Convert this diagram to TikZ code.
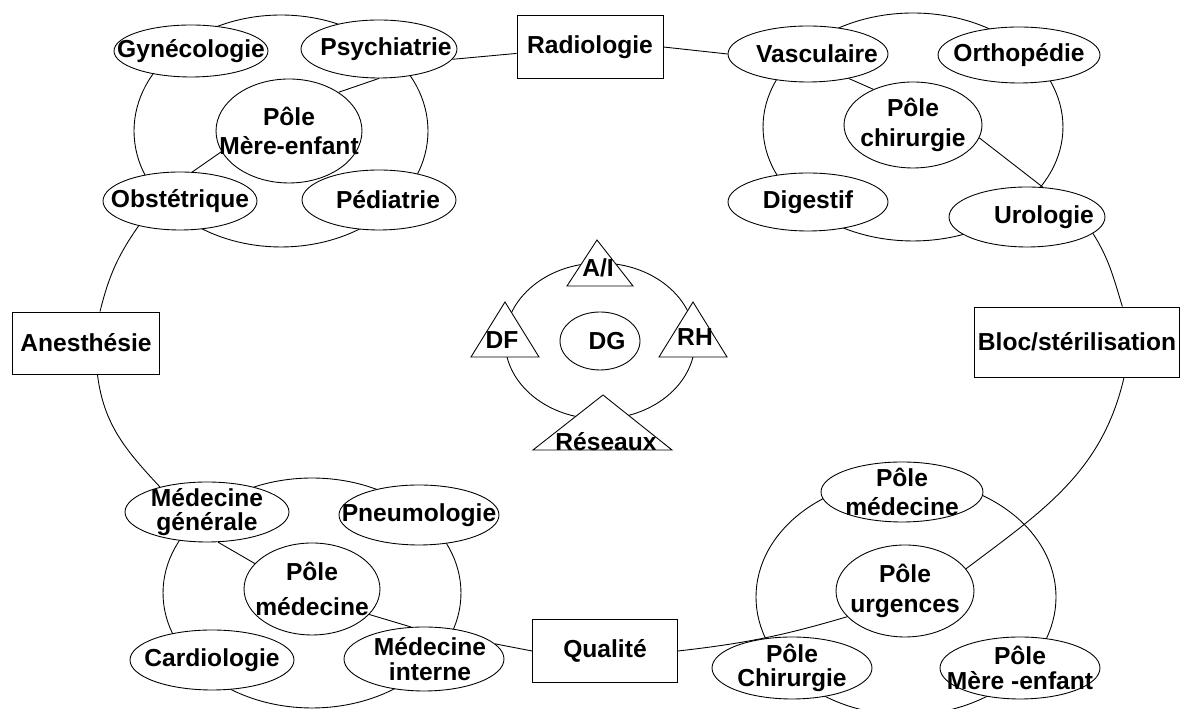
\documentclass[tikz,border=0pt]{standalone}
\usepackage{fontspec}
\setmainfont{Liberation Sans}
\usetikzlibrary{shapes.geometric, positioning}

\begin{document}
\begin{tikzpicture}[
    x=0.02cm, y=0.02cm,
    line width=0.5pt,
    every node/.style={
      font=\bfseries\fontsize{14}{17}\selectfont
    },
    every label/.style={
      align=center,
      inner sep=0pt
    },
    twoline/.style={
      font=\bfseries\fontsize{14}{14}\selectfont
    },
    ring/.style={
      ellipse,
      draw,
      inner sep=0pt
    },
    service/.style={
      ellipse,
      draw,
      fill=white,
      inner sep=0pt,
      minimum width=3.2cm,
      minimum height=1.16cm
    },
    pole/.style={
      ellipse,
      draw,
      fill=white,
      inner sep=0pt,
      minimum width=2.76cm,
      minimum height=1.84cm
    },
    dept/.style={
      rectangle,
      draw,
      fill=white,
      minimum width=2.92cm,
      minimum height=1.26cm
    },
    tri/.style={
      draw,
      fill=white
    },
    link/.style={
      draw
    }
]
\useasboundingbox (0,0) rectangle (1181,709);

% Pole mere-enfant
\node (mereRing) [ring, minimum width=5.88cm, minimum height=4.64cm] at (281,578) {};
\node (gyn) [service, minimum width=3.08cm, minimum height=1.04cm, label={center:Gynécologie}] at (191,658) {};
\node (psy) [service, minimum width=3.12cm, label={[xshift=0.14cm]center:Psychiatrie}] at (379,660) {};
\node (pme) [pole, minimum width=2.92cm, minimum height=2.08cm, label={center:Pôle\\Mère-enfant}] at (289,578) {};
\node (obst) [service, minimum width=3.08cm, label={center:Obstétrique}] at (180,508) {};
\node (ped) [service, minimum width=3.08cm, minimum height=1.2cm, label={[xshift=0.18cm]center:Pédiatrie}] at (379,509) {};
\draw [link] (pme.38) -- (psy.south);
\draw [link] (pme.197) -- (obst.67);

% Pole chirurgie
\node (chirRing) [ring, minimum width=6cm, minimum height=4.56cm] at (913,582) {};
\node (vasc) [service, minimum height=1.12cm, label={[xshift=0.18cm]center:Vasculaire}] at (808,655) {};
\node (ortho) [service, minimum width=3.24cm, minimum height=1.12cm, label={center:Orthopédie}] at (1019,654) {};
\node (pch) [pole, minimum height=1.72cm, label={center:Pôle\\chirurgie}] at (913,584) {};
\node (dig) [service, label={center:Digestif}] at (808,507) {};
\node (uro) [service, minimum width=3.12cm, minimum height=1.2cm, label={[xshift=0.34cm]center:Urologie}] at (1027,492) {};
\draw [link] (vasc.-31) -- (pch.138);
\draw [link] (pch.-11) -- (uro.62);

% Pole medecine
\node (medRing) [ring, minimum width=5.96cm, minimum height=4.6cm] at (312,116) {};
\node (mg) [service, minimum width=3.28cm, minimum height=1.2cm, label={[twoline]center:Médecine\\générale}] at (207,197) {};
\node (pneu) [service, minimum height=1.2cm, label={center:Pneumologie}] at (419,194) {};
\node (pm) [pole, minimum width=2.72cm, label={[font=\bfseries\fontsize{14}{20}\selectfont]center:Pôle\\médecine}] at (312,120) {};
\node (cardio) [service, minimum width=3.28cm, minimum height=1.2cm, label={center:Cardiologie}] at (212,49) {};
\node (mi) [service, minimum height=1.28cm, label={[twoline, xshift=0.12cm]center:Médecine\\interne}] at (424,50) {};
\draw [link] (mg.-70) -- (pm.156);
\draw [link] (pm.-24) -- (mi.112);

% Pole urgences
\node (urgRing) [ring, minimum width=6cm, minimum height=4.72cm] at (906,112) {};
\node (pmed2) [service, minimum width=3.24cm, minimum height=1.2cm, label={center:Pôle\\médecine}] at (902,217) {};
\node (urg) [pole, label={center:Pôle\\urgences}] at (905,118) {};
\node (pchir2) [service, minimum height=1.24cm, label={[twoline]center:Pôle\\Chirurgie}] at (792,41) {};
\node (pme2) [service, minimum height=1.24cm, label={[twoline]center:Pôle\\Mère -enfant}] at (1020,41) {};

% Direction
\node (dirRing) [ring, minimum width=3.8cm, minimum height=3.12cm] at (600,368) {};
\node (dg) [ellipse, draw, fill=white, inner sep=0pt, minimum width=1.6cm, minimum height=1.16cm, label={[xshift=0.14cm]center:DG}] at (600,368) {};
\draw [tri] (567,423) -- (597,469) -- (633,423) -- cycle;
\node (ai) at (598,441) {A/I};
\draw [tri] (471,352) -- (505,407) -- (539,352) -- cycle;
\node (df) at (502,369) {DF};
\draw [tri] (659,352) -- (693,407) -- (727,352) -- cycle;
\node (rh) at (695,372) {RH};
\draw [tri] (533,259) -- (603,314) -- (672,259) -- cycle;
\node (res) at (606,267) {Réseaux};

% Services transversaux
\node (radio) [dept] at (590,662) {Radiologie};
\node (anest) [dept, minimum width=2.94cm, minimum height=1.24cm] at (86,366) {Anesthésie};
\node (bloc) [dept, inner xsep=2pt, minimum width=4.1cm, minimum height=1.4cm] at (1077,367) {Bloc/stérilisation};
\node (qual) [dept, minimum width=2.9cm] at (605,58) {Qualité};

% Anneau
\draw [link] (psy.-8) -- (radio.185);
\draw [link] (radio.east) -- (vasc.west);
\draw [link] (uro.-14) to[out=-58, in=107] (bloc.38);
\draw [link] (bloc.-37) to[out=-103, in=37] (urg.20);
\draw [link] (qual.east) to[bend right=5] (urg.204);
\draw [link] (mi.12) -- (qual.west);
\draw [link] (anest.-70) to[out=-83, in=133] (mg.152);
\draw [link] (anest.66) to[out=76, in=-125] (obst.211);

\end{tikzpicture}
\end{document}
